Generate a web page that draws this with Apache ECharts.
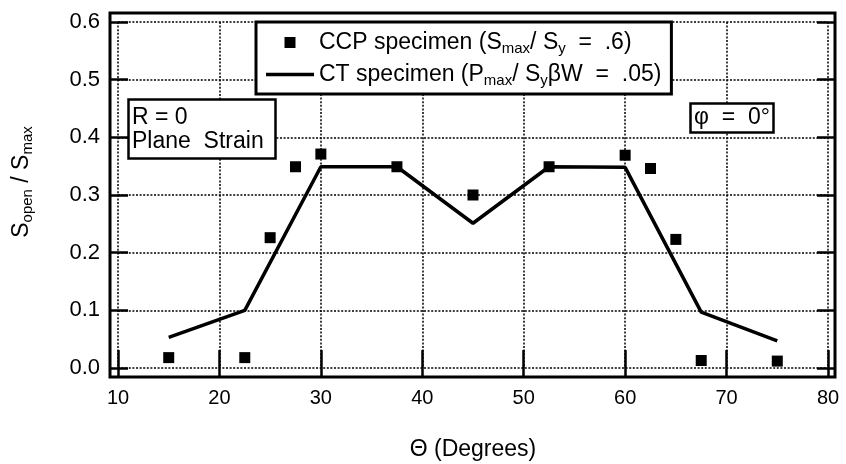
<!DOCTYPE html>
<html>
<head>
<meta charset="utf-8">
<script src="https://cdn.jsdelivr.net/npm/echarts@6/dist/echarts.min.js"></script>
<style>
html,body{margin:0;padding:0;background:#fff;}
#chart{width:846px;height:464px;}
</style>
</head>
<body>
<div id="chart"></div>
<script>
// ---- data ----
const ccpTheta  = [15, 22.5, 25, 27.5, 30, 37.5, 45, 52.5, 60, 62.5, 65, 67.5, 75];
const ccpValues = [0.018, 0.018, 0.226, 0.349, 0.371, 0.349, 0.300, 0.349, 0.369, 0.346, 0.223, 0.013, 0.012];
const ctTheta   = [15, 22.5, 30, 37.5, 45, 52.5, 60, 67.5, 75];
const ctValues  = [0.053, 0.100, 0.349, 0.349, 0.251, 0.349, 0.348, 0.097, 0.047];
const xTickMin = 10, xTickMax = 80, xTickStep = 10;
const yTickMin = 0, yTickMax = 0.6, yTickStep = 0.1;
const ccpName = 'CCP specimen (Smax/ Sy = .6)';
const ctName  = 'CT specimen (Pmax/ SyβW = .05)';
const ccpLabel = '{n|CCP specimen (S}{s|max}{n|/ S}{s|y}{n|  =  .6)}';
const ctLabel  = '{n|CT specimen (P}{s|max}{n|/ S}{s|y}{n|βW  =  .05)}';
const yName = '{n|S}{s|open}{n| / S}{s|max}';
const xName = 'Θ (Degrees)';
const note1 = 'R = 0\nPlane  Strain';
const note2 = 'φ  =  0°';

const FONT = "'Liberation Sans', Arial, Helvetica, sans-serif";
const zip = (a, b) => a.map((v, i) => [v, b[i]]);
const rich = {
  n: {fontFamily: FONT, fontSize: 23, lineHeight: 27, color: '#000'},
  s: {fontFamily: FONT, fontSize: 15, lineHeight: 17, verticalAlign: 'bottom', color: '#000'}
};

const chart = echarts.init(document.getElementById('chart'), null, {renderer: 'canvas'});
const tickStyle = {color: '#000', width: 2.5};
const gridLine = {color: '#000', width: 1.5, type: [2, 1.6]};
const option = {
  animation: false,
  backgroundColor: '#fff',
  grid: {left: 118, right: 18, top: 22, bottom: 96, containLabel: false, outerBoundsMode: 'none'},
  xAxis: [{
    type: 'value', position: 'bottom', min: xTickMin, max: xTickMax, interval: xTickStep, offset: 9,
    axisLine: {show: false},
    axisTick: {show: true, inside: true, length: 18, lineStyle: tickStyle},
    axisLabel: {color: '#000', fontFamily: FONT, fontSize: 20, margin: 11},
    splitLine: {show: true, lineStyle: gridLine},
    name: xName, nameLocation: 'middle', nameGap: 61,
    nameTextStyle: {color: '#000', fontFamily: FONT, fontSize: 23}
  }, {
    type: 'value', position: 'top', min: xTickMin, max: xTickMax, interval: xTickStep, offset: 9,
    axisLine: {show: false},
    axisTick: {show: true, inside: true, length: 10, lineStyle: tickStyle},
    axisLabel: {show: false}, splitLine: {show: false}
  }],
  yAxis: [{
    type: 'value', position: 'left', min: yTickMin, max: yTickMax, interval: yTickStep, offset: 8,
    axisLine: {show: false},
    axisTick: {show: true, inside: true, length: 18, lineStyle: tickStyle},
    axisLabel: {color: '#000', fontFamily: FONT, fontSize: 22, margin: 10, formatter: v => v.toFixed(1)},
    splitLine: {show: true, lineStyle: gridLine},
    name: yName, nameLocation: 'middle', nameGap: 75, nameRotate: 90,
    nameTextStyle: {rich: rich, padding: [0, 0, 0, 26]}
  }, {
    type: 'value', position: 'right', min: yTickMin, max: yTickMax, interval: yTickStep, offset: 7,
    axisLine: {show: false},
    axisTick: {show: true, inside: true, length: 18, lineStyle: tickStyle},
    axisLabel: {show: false}, splitLine: {show: false}
  }],
  legend: {
    orient: 'vertical', left: 256, top: 22,
    padding: [9, 10, 6, 10], itemGap: 7, itemWidth: 48, itemHeight: 11,
    borderColor: '#000', borderWidth: 3, backgroundColor: '#fff',
    symbolKeepAspect: true, selectedMode: false,
    data: [
      {name: ccpName, icon: 'path://M0,0H10V10H0Z', itemStyle: {color: '#000', opacity: 1}},
      {name: ctName, icon: 'path://M0,0H48V3.5H0Z', itemStyle: {color: '#000', opacity: 1}}
    ],
    formatter: name => (name === ccpName ? ccpLabel : ctLabel),
    textStyle: {rich: rich}
  },
  title: [{
    text: note1, left: 128, top: 99, padding: [7, 12, 5, 4],
    borderColor: '#000', borderWidth: 2.5, backgroundColor: '#fff',
    textStyle: {fontFamily: FONT, fontSize: 23, fontWeight: 'normal', lineHeight: 24, color: '#000'}
  }, {
    text: note2, left: 690, top: 103, padding: [3, 4, 3, 4],
    borderColor: '#000', borderWidth: 2.5, backgroundColor: '#fff',
    textStyle: {fontFamily: FONT, fontSize: 23, fontWeight: 'normal', lineHeight: 24, color: '#000'}
  }],
  graphic: [{
    type: 'rect', z: 100, silent: true,
    shape: {x: 110, y: 13, width: 725, height: 364},
    style: {fill: 'none', stroke: '#000', lineWidth: 3}
  }],
  series: [{
    name: ctName, type: 'line', data: zip(ctTheta, ctValues),
    symbol: 'none', showSymbol: false,
    lineStyle: {color: '#000', width: 3.5}, itemStyle: {color: '#000'}, z: 3
  }, {
    name: ccpName, type: 'scatter', data: zip(ccpTheta, ccpValues),
    symbol: 'rect', symbolSize: 11,
    itemStyle: {color: '#000', opacity: 1}, z: 4
  }]
};
chart.setOption(option);
</script>
</body>
</html>
